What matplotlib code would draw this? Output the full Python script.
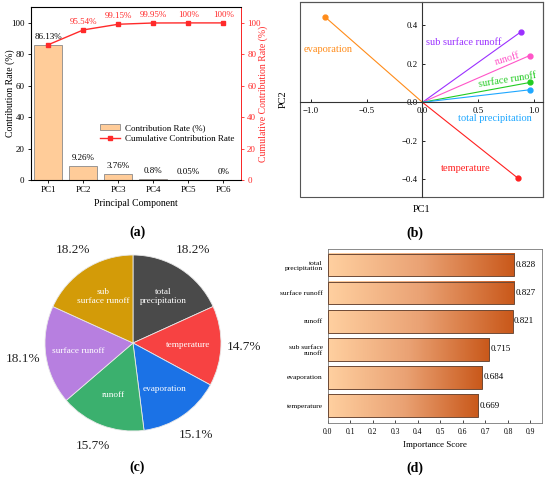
import matplotlib.pyplot as plt
import numpy as np
from matplotlib.colors import LinearSegmentedColormap
from matplotlib.patches import Rectangle, Patch
from matplotlib.lines import Line2D

plt.rcParams['font.family'] = ['Liberation Serif', 'DejaVu Serif']

# (a) principal component contribution
pcs = ['PC1', 'PC2', 'PC3', 'PC4', 'PC5', 'PC6']
contrib = [86.13, 9.26, 3.76, 0.8, 0.05, 0.0]
cumulative = [86.13, 95.54, 99.15, 99.95, 100.0, 100.0]
contrib_text = ['86.13%', '9.26%', '3.76%', '0.8%', '0.05%', '0%']
cum_text = ['', '95.54%', '99.15%', '99.95%', '100%', '100%']

# (b) loadings on PC1 / PC2
variables = ['evaporation', 'sub surface runoff', 'runoff', 'surface runoff',
             'total precipitation', 'temperature']
pc1 = [-0.875, 0.886, 0.961, 0.967, 0.967, 0.856]
pc2 = [0.443, 0.366, 0.242, 0.103, 0.065, -0.393]
var_colors = ['#ff8c1a', '#9b30ff', '#ff55c8', '#22cc22', '#1ea7ff', '#ff2020']

# (c) weight shares
pie_labels = ['total\nprecipitation', 'temperature', 'evaporation', 'runoff',
              'surface runoff', 'sub\nsurface runoff']
pie_values = [18.2, 14.7, 15.1, 15.7, 18.1, 18.2]
pie_colors = ['#4a4a4a', '#f74242', '#1b72e6', '#3bb06e', '#b77fe0', '#d39b08']

# (d) importance scores
features = ['temperature', 'evaporation', 'sub surface\nrunoff', 'runoff',
            'surface runoff', 'total\nprecipitation']
scores = [0.669, 0.684, 0.715, 0.821, 0.827, 0.828]

fig = plt.figure(figsize=(5.5, 4.79), dpi=100)

# ---------------- (a)
ax = fig.add_axes([0.056, 0.624, 0.382, 0.361])
x = np.arange(len(pcs))
ax.bar(x, contrib, width=0.8, color='#ffcc99', edgecolor='#8a8a8a', lw=0.6)
for xi, v, t in zip(x, contrib, contrib_text):
    ax.text(xi, v + 2.5, t, ha='center', va='bottom', fontsize=6.5)
ax.set_xlim(-0.5, 5.5)
ax.set_ylim(0, 110)
ax.set_yticks(range(0, 101, 20))
ax.set_xticks(x)
ax.set_xticklabels(pcs)
ax.tick_params(labelsize=6.5, length=2.5, width=0.6, pad=2)
ax.set_xlabel('Principal Component', fontsize=7, labelpad=3)
ax.set_ylabel('Contribution Rate (%)', fontsize=7)
ax.yaxis.set_label_coords(-0.075, 0.5)
for s in ax.spines.values():
    s.set_color('#444444')
    s.set_linewidth(0.7)

red = '#ff2a2a'
ax2 = ax.twinx()
ax2.plot(x, cumulative, color=red, marker='s', markersize=3, lw=1)
for xi, v, t in zip(x, cumulative, cum_text):
    if t:
        ax2.text(xi, v + 2.5, t, ha='center', va='bottom', fontsize=6.5, color=red)
ax2.set_ylim(0, 110)
ax2.set_yticks(range(0, 101, 20))
ax2.tick_params(labelsize=6.5, length=2.5, width=0.6, colors=red, pad=2)
ax2.spines['right'].set_color(red)
ax2.spines['right'].set_linewidth(0.7)
ax2.set_ylabel('Cumulative Contribution Rate (%)', fontsize=7, color=red)
ax2.yaxis.set_label_coords(1.085, 0.5)
handles = [Patch(facecolor='#ffcc99', edgecolor='#8a8a8a', lw=0.6),
           Line2D([], [], color=red, marker='s', markersize=3, lw=1)]
ax.legend(handles, ['Contribution Rate (%)', 'Cumulative Contribution Rate'],
          loc='center', bbox_to_anchor=(0.65, 0.27), frameon=False, fontsize=6.5,
          handlelength=2.2, handletextpad=0.5, labelspacing=0.3)

# ---------------- (b)
bx = fig.add_axes([0.545, 0.589, 0.442, 0.407])
for px, py, c in zip(pc1, pc2, var_colors):
    bx.plot([0, px], [0, py], color=c, lw=0.8)
    bx.plot(px, py, 'o', color=c, markersize=3.5)
label_pos = [(-0.85, 0.275, 0), (0.37, 0.311, 0), (0.76, 0.225, 17),
             (0.76, 0.117, 9), (0.647, -0.086, 0), (0.39, -0.343, 0)]
for name, c, (lx, ly, rot) in zip(variables, var_colors, label_pos):
    bx.text(lx, ly, name, color=c, fontsize=7.5, ha='center', va='center', rotation=rot)
bx.set_xlim(-1.1, 1.08)
bx.set_ylim(-0.49, 0.52)
bx.spines['left'].set_position('zero')
bx.spines['bottom'].set_position('zero')
for s in ['left', 'bottom']:
    bx.spines[s].set_color('#333333')
    bx.spines[s].set_linewidth(0.8)
for s in ['top', 'right']:
    bx.spines[s].set_color('#555555')
    bx.spines[s].set_linewidth(0.8)
bx.add_patch(Rectangle((0, 0), 1, 1, transform=bx.transAxes, fill=False,
                       edgecolor='#555555', lw=0.8, clip_on=False))
bx.set_xticks([-1.0, -0.5, 0.0, 0.5, 1.0])
bx.set_yticks([-0.4, -0.2, 0.0, 0.2, 0.4])
bx.tick_params(labelsize=6.3, direction='in', length=2.5, width=0.6)
bx.set_xlabel('PC1', fontsize=7.5)
bx.set_ylabel('PC2', fontsize=7.5)
bx.xaxis.set_label_coords(0.5, -0.04)
bx.yaxis.set_label_coords(-0.05, 0.5)

# ---------------- (c)
cx = fig.add_axes([0.0258, 0.0359, 0.432, 0.496])
wedges, texts, autotexts = cx.pie(pie_values, labels=pie_labels, colors=pie_colors,
                                  startangle=90, counterclock=False, autopct='%.1f%%',
                                  pctdistance=1.26, labeldistance=0.63,
                                  wedgeprops=dict(edgecolor='#e8e8e8', lw=0.6),
                                  textprops=dict(fontsize=6.7))
for t in texts:
    t.set_color('white')
    t.set_ha('center')
    t.set_va('center')
    t.set_multialignment('center')
for t in autotexts:
    t.set_fontsize(9.5)
    t.set_color('#222222')
cx.set_xlim(-1.35, 1.35)
cx.set_ylim(-1.35, 1.35)
cx.set_aspect('equal')

# ---------------- (d)
dx = fig.add_axes([0.596, 0.117, 0.389, 0.363])
cmap = LinearSegmentedColormap.from_list('peach', ['#ffd0a0', '#eaa274', '#c9581a'])
grad = np.linspace(0, 1, 256).reshape(1, -1)
y = np.arange(len(features))
for yi, v in zip(y, scores):
    dx.imshow(grad, extent=[0, v, yi - 0.4, yi + 0.4], cmap=cmap, aspect='auto', zorder=2)
dx.barh(y, scores, height=0.8, facecolor='none', edgecolor='#6e4a36', lw=0.7, zorder=3)
for yi, v in zip(y, scores):
    dx.text(v + 0.006, yi, f'{v:.3f}', va='center', ha='left', fontsize=6.5)
dx.set_xlim(0, 0.95)
dx.set_ylim(-0.62, 5.57)
dx.set_xticks(np.arange(0, 0.91, 0.1))
dx.set_xticklabels([f'{t:.1f}' for t in np.arange(0, 0.91, 0.1)])
dx.set_yticks(y)
dx.set_yticklabels(features, fontsize=5.4)
dx.tick_params(axis='x', labelsize=5.5, direction='in', length=2, width=0.5)
dx.tick_params(axis='y', length=0)
dx.set_xlabel('Importance Score', fontsize=6.5, labelpad=4)
for s in dx.spines.values():
    s.set_color('#777777')
    s.set_linewidth(0.6)

# panel tags
for tag, px, py in [('(a)', 137, 232), ('(b)', 415, 233), ('(c)', 137, 467), ('(d)', 415, 468)]:
    fig.text(px / 550, 1 - py / 479, tag, ha='center', va='center', fontsize=10,
             fontweight='bold')

fig.savefig('out.png', dpi=100)
